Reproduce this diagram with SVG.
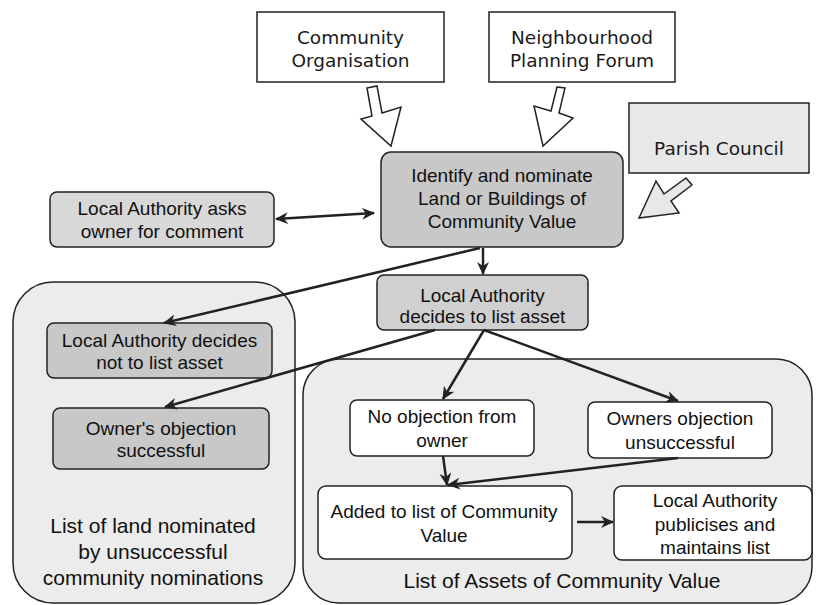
<svg xmlns="http://www.w3.org/2000/svg" width="820" height="605" viewBox="0 0 820 605">
<defs>
<marker id="ah" markerUnits="userSpaceOnUse" markerWidth="14" markerHeight="12" refX="12" refY="6" orient="auto-start-reverse">
<path d="M0,0 L13,6 L0,12 L4,6 Z" fill="#222"/>
</marker>
<style>
.v{font-family:"DejaVu Sans",Verdana,sans-serif;font-size:18.5px;fill:#1a1a1a;text-anchor:middle}
.a{font-family:"Liberation Sans",Arial,sans-serif;font-size:19px;fill:#111;text-anchor:middle}
.big{font-family:"Liberation Sans",Arial,sans-serif;font-size:21px;fill:#111;text-anchor:middle}
.box{stroke:#222;stroke-width:1.5}
.cont{fill:#ececec;stroke:#222;stroke-width:1.5}
.con{stroke:#222;stroke-width:2.5;fill:none}
.blk{stroke:#222;stroke-width:1.5;stroke-linejoin:miter}
</style>
</defs>
<rect width="820" height="605" fill="#fff"/>

<g id="cont-left">
<rect class="cont" x="13" y="282" width="282" height="321" rx="40"/>
<text class="big" x="153" y="533">List of land nominated</text>
<text class="big" x="153" y="559">by unsuccessful</text>
<text class="big" x="153" y="585">community nominations</text>
</g>
<g id="cont-right">
<rect class="cont" x="303" y="359" width="509" height="244" rx="36"/>
<text class="big" x="562" y="588">List of Assets of Community Value</text>
</g>

<g id="community-org">
<rect class="box" x="257" y="12" width="187" height="70" fill="#fff"/>
<text class="v" x="350.5" y="44">Community</text>
<text class="v" x="350.5" y="67">Organisation</text>
</g>
<g id="nhood-forum">
<rect class="box" x="489" y="12" width="186" height="70" fill="#fff"/>
<text class="v" x="582" y="44">Neighbourhood</text>
<text class="v" x="582" y="67">Planning Forum</text>
</g>
<g id="parish">
<rect class="box" x="629" y="103" width="180" height="70" fill="#e8e8e8"/>
<text class="v" x="719" y="155">Parish Council</text>
</g>

<g id="identify">
<rect class="box" x="381" y="152" width="242" height="95" rx="10" fill="#c8c8c8"/>
<text class="a" x="502" y="182">Identify and nominate</text>
<text class="a" x="502" y="205">Land or Buildings of</text>
<text class="a" x="502" y="228">Community Value</text>
</g>
<g id="la-asks">
<rect class="box" x="50" y="192" width="224" height="55" rx="7" fill="#d8d8d8"/>
<text class="a" x="162" y="215">Local Authority asks</text>
<text class="a" x="162" y="238">owner for comment</text>
</g>
<g id="la-list">
<rect class="box" x="377" y="275" width="211" height="55" rx="7" fill="#d0d0d0"/>
<text class="a" x="482.5" y="302">Local Authority</text>
<text class="a" x="482.5" y="323">decides to list asset</text>
</g>
<g id="la-not">
<rect class="box" x="47" y="323" width="225" height="55" rx="7" fill="#c8c8c8"/>
<text class="a" x="159.5" y="347">Local Authority decides</text>
<text class="a" x="159.5" y="369">not to list asset</text>
</g>
<g id="obj-success">
<rect class="box" x="53" y="408" width="216" height="61" rx="7" fill="#c8c8c8"/>
<text class="a" x="161" y="435">Owner's objection</text>
<text class="a" x="161" y="457">successful</text>
</g>
<g id="no-objection">
<rect class="box" x="350" y="400" width="184" height="56" rx="7" fill="#fff"/>
<text class="a" x="442" y="423">No objection from</text>
<text class="a" x="442" y="447">owner</text>
</g>
<g id="obj-unsuccess">
<rect class="box" x="588" y="402" width="184" height="56" rx="7" fill="#fff"/>
<text class="a" x="680" y="425">Owners objection</text>
<text class="a" x="680" y="449">unsuccessful</text>
</g>
<g id="added">
<rect class="box" x="318" y="486" width="254" height="73" rx="8" fill="#fff"/>
<text class="a" x="444" y="518">Added to list of Community</text>
<text class="a" x="444" y="542">Value</text>
</g>
<g id="publicises">
<rect class="box" x="614" y="486" width="198" height="74" rx="8" fill="#fff"/>
<text class="a" x="715" y="507">Local Authority</text>
<text class="a" x="715" y="531">publicises and</text>
<text class="a" x="715" y="554">maintains list</text>
</g>

<g id="connectors">
<polygon class="blk" fill="#fff" points="367,88 377,86 382,113 401,107 391,146 361,119 372,116"/>
<polygon class="blk" fill="#fff" points="557,87 565,88 559,113 573,118 543,146 534,106 551,111"/>
<polygon class="blk" fill="#e8e8e8" points="639,218 656,181 664,194 686,178 692,185 671,201 679,213"/>
<line class="con" x1="276" y1="219" x2="374" y2="213" marker-start="url(#ah)" marker-end="url(#ah)"/>
<line class="con" x1="483" y1="248" x2="483" y2="274" marker-end="url(#ah)"/>
<line class="con" x1="480" y1="248" x2="164" y2="323" marker-end="url(#ah)"/>
<line class="con" x1="435" y1="330" x2="165" y2="407" marker-end="url(#ah)"/>
<line class="con" x1="484" y1="330" x2="443" y2="399" marker-end="url(#ah)"/>
<line class="con" x1="484" y1="330" x2="678" y2="401" marker-end="url(#ah)"/>
<line class="con" x1="443" y1="456" x2="447" y2="485" marker-end="url(#ah)"/>
<line class="con" x1="678" y1="458" x2="448" y2="485" marker-end="url(#ah)"/>
<line class="con" x1="577" y1="522" x2="613" y2="522" marker-end="url(#ah)"/>
</g>
</svg>
